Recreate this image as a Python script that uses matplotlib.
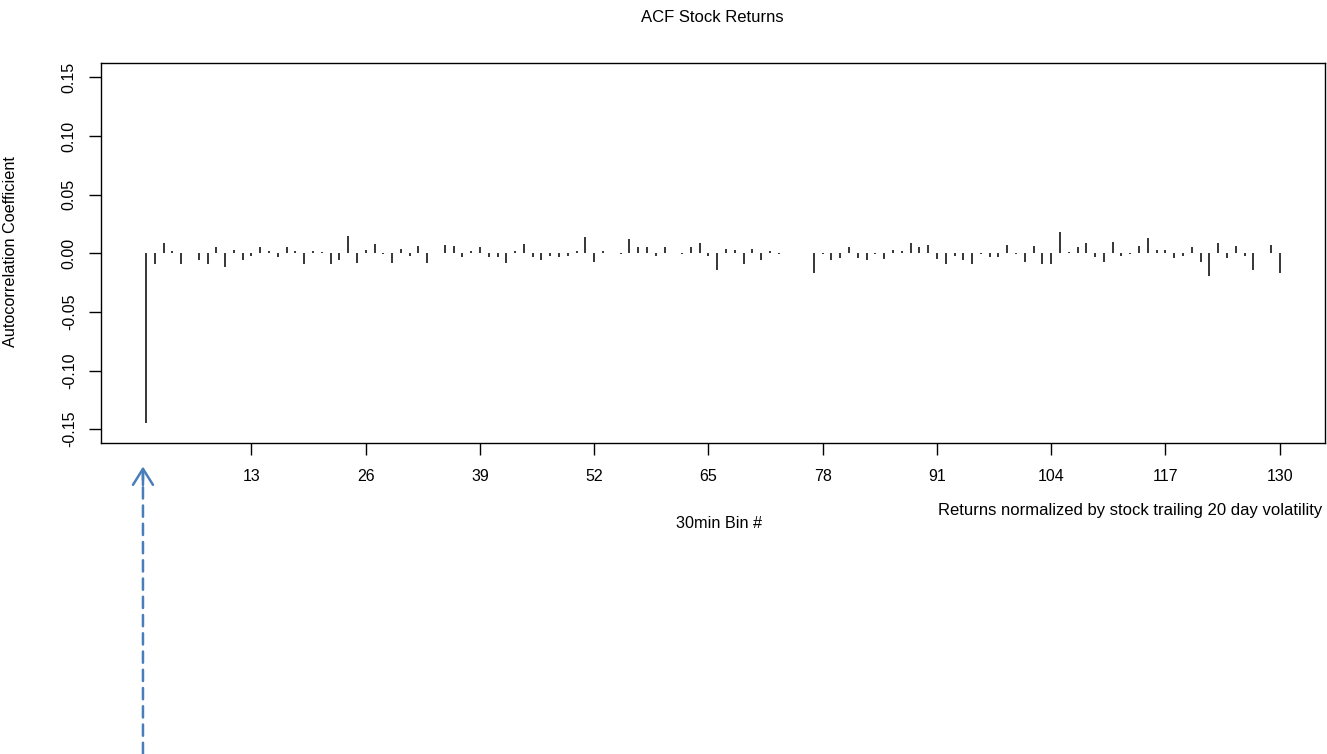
import numpy as np
import matplotlib
matplotlib.use("Agg")
import matplotlib.pyplot as plt

plt.rcParams["font.family"] = ["Liberation Sans", "DejaVu Sans"]
plt.rcParams["axes.unicode_minus"] = False

# ACF by lag (lags 74-76 missing in the source)
lags = np.arange(1, 131)
acf = [
    -0.145, -0.009, 0.0086, 0.002, -0.009, 0.0, -0.006, -0.009, 0.005, -0.012,
    0.003, -0.006, -0.002, 0.005, 0.002, -0.003, 0.005, 0.002, -0.009, 0.002,
    0.001, -0.009, -0.006, 0.015, -0.008, 0.003, 0.008, -0.001, -0.008, 0.004,
    -0.002, 0.006, -0.008, 0.0, 0.007, 0.006, -0.003, 0.002, 0.005, -0.003,
    -0.003, -0.008, 0.002, 0.008, -0.003, -0.006, -0.002, -0.003, -0.002, 0.002,
    0.014, -0.007, 0.002, 0.0, -0.001, 0.012, 0.005, 0.005, -0.002, 0.005,
    0.0, -0.001, 0.005, 0.009, -0.002, -0.014, 0.004, 0.003, -0.009, 0.004,
    -0.006, 0.002, -0.001, np.nan, np.nan, np.nan, -0.017, -0.001, -0.006, -0.004,
    0.005, -0.004, -0.006, -0.001, -0.005, 0.003, 0.002, 0.009, 0.005, 0.007,
    -0.005, -0.009, -0.002, -0.006, -0.009, -0.001, -0.003, -0.003, 0.007, -0.001,
    -0.007, 0.006, -0.009, -0.009, 0.018, 0.001, 0.005, 0.009, -0.003, -0.007,
    0.010, -0.002, -0.001, 0.006, 0.013, 0.003, 0.003, -0.004, -0.002, 0.005,
    -0.007, -0.019, 0.009, -0.004, 0.006, -0.002, -0.014, 0.0, 0.007, -0.017,
]
xticks = np.arange(13, 131, 13)
yticks = [-0.15, -0.10, -0.05, 0.00, 0.05, 0.10, 0.15]

acf = np.array(acf)
ok = ~np.isnan(acf)

W, H = 1327, 754
fig = plt.figure(figsize=(W / 100, H / 100), dpi=100)
ax = fig.add_axes([100.7 / W, 1 - 443.3 / H, (1325 - 100.7) / W, (443.3 - 63.3) / H])

ax.vlines(lags[ok], 0, acf[ok], colors="black", lw=1.1)

# R-style 4% padding
ax.set_xlim(1 - 0.04 * 129, 130 + 0.04 * 129)
ax.set_ylim(-0.162, 0.162)

ax.set_xticks(xticks)
ax.set_xticklabels([str(t) for t in xticks])
ax.set_yticks(yticks)
ax.set_yticklabels([f"{t:.2f}" for t in yticks], rotation=90, va="center")
ax.tick_params(axis="both", length=8.7, width=1.0, labelsize=11.5)
ax.tick_params(axis="x", pad=10)
ax.tick_params(axis="y", pad=8.5)
for s in ax.spines.values():
    s.set_linewidth(1.0)

fig.text(712.8 / W, 1 - 18 / H, "ACF Stock Returns", ha="center", va="center", fontsize=12)
fig.text(11 / W, 1 - 252 / H, "Autocorrelation Coefficient", rotation=90,
         ha="center", va="center", fontsize=11.7)
fig.text(719 / W, 1 - 523 / H, "30min Bin #", ha="center", va="center", fontsize=11.7)
fig.text(1322 / W, 1 - 510 / H, "Returns normalized by stock trailing 20 day volatility",
         ha="right", va="center", fontsize=12)

# dashed arrow pointing at lag 1
blue = "#4a7ebb"
ax.annotate("", xy=(0.65, 1 - 472 / H), xycoords=("data", "figure fraction"),
            xytext=(0.65, 0.0), textcoords=("data", "figure fraction"),
            arrowprops=dict(arrowstyle="-", color=blue, lw=1.8, linestyle=(0, (4.5, 2.8)),
                            shrinkA=0, shrinkB=0), annotation_clip=False)
ax.annotate("", xy=(0.65, 1 - 466.5 / H), xycoords=("data", "figure fraction"),
            xytext=(0.65, 1 - 485 / H), textcoords=("data", "figure fraction"),
            arrowprops=dict(arrowstyle="->,head_length=1.15,head_width=0.72", color=blue,
                            lw=1.8, shrinkA=0, shrinkB=0), annotation_clip=False)

fig.savefig("out.png", dpi=100)
